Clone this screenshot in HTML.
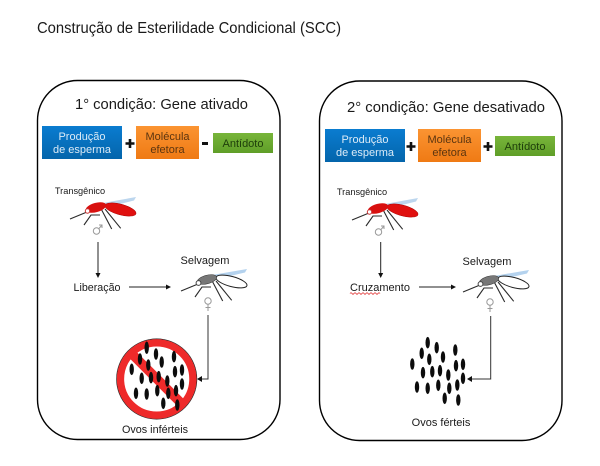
<!DOCTYPE html>
<html><head><meta charset="utf-8"><style>
html,body{margin:0;padding:0;background:#fff}
svg{display:block}
text{font-family:"Liberation Sans",sans-serif;fill:#1a1a1a}
</style></head><body>
<svg width="600" height="466" viewBox="0 0 600 466" xmlns="http://www.w3.org/2000/svg">
<defs>
<linearGradient id="b" x1="0" y1="0" x2="0" y2="1"><stop offset="0" stop-color="#0a7cd0"/><stop offset="1" stop-color="#0465ab"/></linearGradient>
<linearGradient id="o" x1="0" y1="0" x2="0" y2="1"><stop offset="0" stop-color="#fb9432"/><stop offset="1" stop-color="#ef7a14"/></linearGradient>
<linearGradient id="g" x1="0" y1="0" x2="0" y2="1"><stop offset="0" stop-color="#78b53a"/><stop offset="1" stop-color="#5f9e28"/></linearGradient>
<g id="legs" fill="none" stroke="#2a2a2a" stroke-width="1.100">
<path d="M70 219 L87 212"/>
<path d="M100 215 L91 215 L84 225"/>
<path d="M101.700 210 L111.700 229"/>
<path d="M105 209 L120.700 228.300"/>
</g>
<g id="mred">
<path d="M103 203 L136 197 L134 200.500 L106 207.500Z" fill="#bcd6ee"/>
<use href="#legs"/>
<ellipse cx="120.500" cy="209.500" rx="16" ry="5.300" transform="rotate(15 120.500 209.500)" fill="#e0100f" stroke="#a00" stroke-width=".5"/>
<ellipse cx="96" cy="207.500" rx="10.500" ry="4.600" transform="rotate(-15 96 207.500)" fill="#d8100f"/>
<circle cx="87.500" cy="211" r="2.200" fill="#fff" stroke="#c33" stroke-width="1"/>
</g>
<g id="mwild">
<path d="M212 275 L247 269 L245 272.500 L215 279.500Z" fill="#b4d2ee"/>
<g transform="translate(111 72)"><use href="#legs"/></g>
<ellipse cx="231.500" cy="281.500" rx="16" ry="5" transform="rotate(15 231.500 281.500)" fill="#fff" stroke="#222" stroke-width="1"/>
<ellipse cx="207" cy="279.500" rx="10" ry="4.300" transform="rotate(-15 207 279.500)" fill="#777" stroke="#333" stroke-width=".5"/>
<circle cx="198.500" cy="283" r="2.400" fill="#fff" stroke="#444" stroke-width="1"/>
</g>
<g id="male" fill="none" stroke="#999" stroke-width="1">
<circle cx="96.500" cy="231" r="3.200"/><path d="M99 228.500 L102 225 M99 225 H102 V228"/>
</g>
<g id="female" fill="none" stroke="#999" stroke-width="1">
<circle cx="208" cy="301" r="3.200"/><path d="M208 304 V311 M205.500 307.500 H210.500"/>
</g>
</defs>
<rect width="600" height="466" fill="#fff"/>
<text x="37" y="33" font-size="15.500" textLength="304" lengthAdjust="spacingAndGlyphs" fill="#111">Construção de Esterilidade Condicional (SCC)</text>

<!-- Panel 1 -->
<rect x="37.500" y="80.500" width="242.500" height="359" rx="40" fill="#fff" stroke="#000" stroke-width="1.400"/>
<text x="75" y="109" font-size="14.500" textLength="173" lengthAdjust="spacingAndGlyphs">1° condição: Gene ativado</text>
<rect x="42" y="126" width="80" height="33" fill="url(#b)"/>
<text x="82" y="140" font-size="11" text-anchor="middle" style="fill:#dcebf7">Produção</text>
<text x="82" y="153" font-size="11" text-anchor="middle" style="fill:#dcebf7">de esperma</text>
<path d="M125.500 143.500 H134.500 M130 139 V148" stroke="#111" stroke-width="2.600"/>
<rect x="136" y="126" width="63" height="33" fill="url(#o)"/>
<text x="167.500" y="140" font-size="11" text-anchor="middle" style="fill:#5b3510">Molécula</text>
<text x="167.500" y="153" font-size="11" text-anchor="middle" style="fill:#5b3510">efetora</text>
<path d="M202 143.500 H208" stroke="#111" stroke-width="3"/>
<rect x="213" y="133" width="60" height="20" fill="url(#g)"/>
<text x="243" y="147" font-size="11" text-anchor="middle" style="fill:#1d3d0a">Antídoto</text>
<text x="80" y="194" font-size="9.200" text-anchor="middle">Transgênico</text>
<use href="#mred"/>
<use href="#male"/>
<path d="M98 242 V273" stroke="#222" stroke-width="1"/><path d="M95.500 273 H100.500 L98 278Z" fill="#111"/>
<text x="97" y="291" font-size="10.700" text-anchor="middle">Liberação</text>
<path d="M129 287 H167" stroke="#222" stroke-width="1"/><path d="M166 284.500 V289.500 L171 287Z" fill="#111"/>
<text x="205" y="264" font-size="11" text-anchor="middle">Selvagem</text>
<use href="#mwild"/>
<use href="#female"/>
<path d="M208 315 V379 H201" fill="none" stroke="#333" stroke-width="1"/><path d="M202 376 V382 L197 379Z" fill="#111"/>
<circle cx="156.700" cy="379" r="36.300" fill="#fff" stroke="#ee2a2a" stroke-width="7.500"/>
<circle cx="156.700" cy="379" r="40.200" fill="none" stroke="#222" stroke-width=".6"/>
<path d="M133 355 L181 403" stroke="#ee2a2a" stroke-width="9.500"/>
<g fill="#0c0c0c">
<ellipse cx="146.700" cy="347.700" rx="2.200" ry="6.200"/><ellipse cx="156" cy="354" rx="2.200" ry="5.800"/><ellipse cx="161.700" cy="362" rx="2.200" ry="5.800"/><ellipse cx="174" cy="356.700" rx="2.200" ry="5.800"/><ellipse cx="140" cy="359" rx="2.200" ry="5.800"/><ellipse cx="148.300" cy="365" rx="2.200" ry="5.800"/><ellipse cx="131.700" cy="369.300" rx="2.200" ry="5.800"/><ellipse cx="141.700" cy="378.300" rx="2.200" ry="5.800"/><ellipse cx="151" cy="377.700" rx="2.200" ry="5.800"/><ellipse cx="158.700" cy="376.700" rx="2.200" ry="5.800"/><ellipse cx="167.300" cy="381" rx="2.200" ry="5.800"/><ellipse cx="175" cy="371.700" rx="2.200" ry="5.800"/><ellipse cx="182" cy="370" rx="2.200" ry="5.800"/><ellipse cx="182" cy="384" rx="2.200" ry="5.800"/><ellipse cx="176" cy="390.700" rx="2.200" ry="5.800"/><ellipse cx="168.300" cy="393.300" rx="2.200" ry="5.800"/><ellipse cx="157.300" cy="390.700" rx="2.200" ry="5.800"/><ellipse cx="146.700" cy="394" rx="2.200" ry="5.800"/><ellipse cx="136" cy="393.300" rx="2.200" ry="5.800"/><ellipse cx="163.300" cy="403.300" rx="2.200" ry="5.800"/><ellipse cx="177.300" cy="405" rx="2.200" ry="5.800"/>
</g>
<text x="155" y="433" font-size="10.800" text-anchor="middle">Ovos inférteis</text>

<!-- Panel 2 -->
<rect x="319.500" y="81" width="242.500" height="359.500" rx="40" fill="#fff" stroke="#000" stroke-width="1.400"/>
<text x="347" y="112" font-size="14.500" textLength="198" lengthAdjust="spacingAndGlyphs">2° condição: Gene desativado</text>
<rect x="325" y="129" width="80" height="33" fill="url(#b)"/>
<text x="365" y="143" font-size="11" text-anchor="middle" style="fill:#dcebf7">Produção</text>
<text x="365" y="156" font-size="11" text-anchor="middle" style="fill:#dcebf7">de esperma</text>
<path d="M406.500 146.500 H415.500 M411 142 V151" stroke="#111" stroke-width="2.600"/>
<rect x="418" y="129" width="63" height="33" fill="url(#o)"/>
<text x="449.500" y="143" font-size="11" text-anchor="middle" style="fill:#5b3510">Molécula</text>
<text x="449.500" y="156" font-size="11" text-anchor="middle" style="fill:#5b3510">efetora</text>
<path d="M483.500 146.500 H492.500 M488 142 V151" stroke="#111" stroke-width="2.600"/>
<rect x="495" y="136" width="60" height="20" fill="url(#g)"/>
<text x="525" y="150" font-size="11" text-anchor="middle" style="fill:#1d3d0a">Antídoto</text>
<text x="362" y="195" font-size="9.200" text-anchor="middle">Transgênico</text>
<g transform="translate(282 1)"><use href="#mred"/><use href="#male"/><use href="#mwild"/><use href="#female"/></g>
<path d="M380.700 242 V273" stroke="#222" stroke-width="1"/><path d="M378.200 273 H383.200 L380.700 278Z" fill="#111"/>
<text x="380" y="291" font-size="11" text-anchor="middle">Cruzamento</text>
<path d="M350 293.500 q1 -1.500 2 0 t2 0 t2 0 t2 0 t2 0 t2 0 t2 0 t2 0 t2 0 t2 0 t2 0 t2 0 t2 0 t2 0 t2 0" fill="none" stroke="#e03030" stroke-width=".8"/>
<path d="M419 287 H452" stroke="#222" stroke-width="1"/><path d="M451 284.500 V289.500 L456 287Z" fill="#111"/>
<text x="487" y="265" font-size="11" text-anchor="middle">Selvagem</text>
<path d="M490.700 316 V379 H471" fill="none" stroke="#333" stroke-width="1"/><path d="M472 376 V382 L467 379Z" fill="#111"/>
<g fill="#0c0c0c">
<ellipse cx="427.700" cy="342.700" rx="2.200" ry="5.800"/><ellipse cx="436.700" cy="347.700" rx="2.200" ry="5.800"/><ellipse cx="443" cy="357" rx="2.200" ry="5.800"/><ellipse cx="455.300" cy="350" rx="2.200" ry="5.800"/><ellipse cx="421.700" cy="353.300" rx="2.200" ry="5.800"/><ellipse cx="429.300" cy="359.300" rx="2.200" ry="5.800"/><ellipse cx="412.300" cy="364" rx="2.200" ry="5.800"/><ellipse cx="423" cy="372.700" rx="2.200" ry="5.800"/><ellipse cx="432.300" cy="371.700" rx="2.200" ry="5.800"/><ellipse cx="440" cy="370.700" rx="2.200" ry="5.800"/><ellipse cx="448.300" cy="375" rx="2.200" ry="5.800"/><ellipse cx="456" cy="365.700" rx="2.200" ry="5.800"/><ellipse cx="463" cy="364.300" rx="2.200" ry="5.800"/><ellipse cx="463" cy="378.300" rx="2.200" ry="5.800"/><ellipse cx="457.300" cy="385" rx="2.200" ry="5.800"/><ellipse cx="449.300" cy="388.300" rx="2.200" ry="5.800"/><ellipse cx="438.300" cy="385.300" rx="2.200" ry="5.800"/><ellipse cx="427.700" cy="388.300" rx="2.200" ry="5.800"/><ellipse cx="417" cy="387" rx="2.200" ry="5.800"/><ellipse cx="444.700" cy="398.300" rx="2.200" ry="5.800"/><ellipse cx="458.300" cy="400" rx="2.200" ry="5.800"/>
</g>
<text x="441" y="426" font-size="11" text-anchor="middle">Ovos férteis</text>
</svg>
</body></html>
